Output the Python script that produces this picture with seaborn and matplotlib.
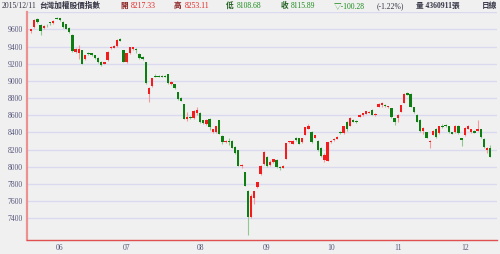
import numpy as np
import pandas as pd
import matplotlib
matplotlib.use("Agg")
import matplotlib.pyplot as plt
import seaborn as sns

# ---- data (daily TAIEX candles) ----
opens = [9580, 9625, 9725, 9650, 9615, 9655, 9685, 9670, 9738, 9730,
         9690, 9660, 9620, 9540, 9340, 9320, 9360, 9250, 9330, 9320,
         9300, 9270, 9225, 9200, 9240, 9380, 9385, 9410, 9490, 9360,
         9220, 9320, 9375, 9375, 9310, 9280, 9220, 8850, 8940, 9060,
         9060, 9060, 9055, 9075, 8960, 8960, 8870, 8805, 8730, 8560,
         8580, 8570, 8630, 8630, 8540, 8500, 8560, 8410, 8400, 8540,
         8360, 8285, 8305, 8305, 8235, 8190, 8005, 7935, 7720, 7415,
         7640, 7760, 7915, 8030, 8110, 8020, 8060, 8080, 8000, 7990,
         8095, 8285, 8270, 8335, 8330, 8285, 8375, 8440, 8410, 8335,
         8305, 8220, 8080, 8070, 8285, 8310, 8325, 8410, 8390, 8525,
         8480, 8550, 8530, 8580, 8600, 8615, 8625, 8665, 8600, 8700,
         8715, 8720, 8690, 8680, 8565, 8565, 8640, 8745, 8855, 8850,
         8695, 8605, 8550, 8420, 8400, 8285, 8375, 8440, 8390, 8480,
         8490, 8470, 8400, 8400, 8480, 8335, 8365, 8440, 8400, 8420,
         8420, 8440, 8325, 8190, 8217.33]
highs = [9610, 9715, 9735, 9665, 9650, 9665, 9690, 9705, 9745, 9735,
         9695, 9665, 9625, 9545, 9385, 9415, 9365, 9305, 9340, 9325,
         9305, 9275, 9230, 9225, 9345, 9405, 9420, 9485, 9495, 9365,
         9330, 9400, 9400, 9385, 9320, 9285, 9225, 8930, 9035, 9075,
         9070, 9070, 9065, 9080, 9000, 8965, 8875, 8810, 8735, 8640,
         8590, 8660, 8690, 8635, 8545, 8555, 8565, 8445, 8475, 8550,
         8365, 8310, 8330, 8310, 8240, 8195, 8030, 7940, 7725, 7680,
         7720, 7825, 8015, 8180, 8120, 8075, 8095, 8090, 8010, 8015,
         8280, 8305, 8310, 8345, 8340, 8340, 8465, 8500, 8415, 8370,
         8310, 8225, 8160, 8290, 8310, 8330, 8355, 8420, 8480, 8530,
         8580, 8560, 8540, 8610, 8625, 8650, 8645, 8670, 8620, 8740,
         8750, 8730, 8710, 8685, 8570, 8610, 8720, 8855, 8865, 8855,
         8700, 8610, 8555, 8460, 8405, 8310, 8425, 8450, 8475, 8500,
         8500, 8475, 8405, 8485, 8485, 8340, 8460, 8485, 8445, 8425,
         8540, 8445, 8330, 8225, 8253.11]
lows = [9555, 9615, 9670, 9530, 9605, 9630, 9650, 9665, 9715, 9700,
        9620, 9600, 9555, 9340, 9320, 9260, 9195, 9240, 9300, 9290,
        9260, 9210, 9175, 9195, 9235, 9375, 9380, 9400, 9465, 9215,
        9210, 9315, 9360, 9330, 9260, 9240, 8960, 8750, 8930, 9040,
        9040, 9040, 9040, 8960, 8950, 8910, 8780, 8760, 8555, 8535,
        8555, 8560, 8600, 8510, 8500, 8490, 8430, 8395, 8390, 8380,
        8270, 8280, 8250, 8215, 8150, 8005, 7990, 7775, 7200, 7400,
        7560, 7750, 7900, 8025, 8000, 8010, 8040, 7990, 7960, 7985,
        8090, 8280, 8260, 8300, 8260, 8280, 8370, 8435, 8280, 8330,
        8180, 8110, 8050, 8065, 8280, 8305, 8320, 8385, 8385, 8420,
        8475, 8520, 8510, 8575, 8595, 8610, 8620, 8600, 8595, 8695,
        8700, 8690, 8680, 8570, 8490, 8525, 8635, 8740, 8835, 8690,
        8630, 8520, 8410, 8385, 8330, 8215, 8370, 8340, 8385, 8455,
        8460, 8395, 8380, 8395, 8385, 8245, 8360, 8435, 8395, 8390,
        8415, 8340, 8220, 8160, 8108.68]
closes = [9600, 9710, 9680, 9585, 9640, 9645, 9675, 9700, 9725, 9710,
          9630, 9610, 9565, 9350, 9375, 9370, 9200, 9300, 9310, 9305,
          9270, 9220, 9185, 9220, 9340, 9400, 9410, 9475, 9470, 9220,
          9320, 9390, 9390, 9360, 9270, 9250, 8970, 8920, 9030, 9045,
          9050, 9045, 9048, 8970, 8990, 8920, 8790, 8765, 8560, 8580,
          8565, 8650, 8660, 8520, 8510, 8550, 8460, 8440, 8470, 8385,
          8285, 8305, 8290, 8220, 8155, 8010, 8025, 7780, 7410, 7660,
          7715, 7820, 8010, 8170, 8010, 8050, 8085, 7995, 7988, 8010,
          8275, 8300, 8300, 8315, 8270, 8335, 8460, 8480, 8285, 8365,
          8190, 8120, 8140, 8285, 8305, 8325, 8350, 8390, 8470, 8440,
          8570, 8525, 8520, 8605, 8620, 8645, 8640, 8605, 8615, 8730,
          8745, 8705, 8705, 8580, 8525, 8605, 8715, 8850, 8840, 8695,
          8635, 8525, 8415, 8450, 8335, 8305, 8420, 8345, 8470, 8465,
          8475, 8400, 8385, 8480, 8390, 8315, 8455, 8480, 8440, 8395,
          8440, 8345, 8225, 8220, 8115.89]

month_labels = ["06", "07", "08", "09", "10", "11", "12"]
month_start_idx = [9, 30, 53, 74, 94, 115, 136]
y_ticks = [7400, 7600, 7800, 8000, 8200, 8400, 8600, 8800, 9000, 9200, 9400, 9600]

df = pd.DataFrame({"open": opens, "high": highs, "low": lows, "close": closes})
df["idx"] = np.arange(len(df))
df["up"] = df["close"] >= df["open"]

# ---- style ----
bg = "#f0f0f0"
sns.set_style("white", {"axes.facecolor": bg, "figure.facecolor": bg})
plt.rcParams["font.family"] = ["Liberation Serif", "Noto Sans CJK TC", "DejaVu Sans"]

fig = plt.figure(figsize=(5.0, 2.54), dpi=100)
ax = fig.add_axes([0.054, 0.055, 0.94, 0.897])
ax.set_facecolor(bg)

red_body, red_wick = "#f21c1c", "#f59a9a"
grn_body, grn_wick = "#0e7d12", "#92c792"

# horizontal grid
for yv in y_ticks + [9800]:
    ax.axhline(yv, color="#d9d9f0", lw=1.0, zorder=0)

wick_cols = np.where(df["up"], red_wick, grn_wick)
body_cols = np.where(df["up"], red_body, grn_body)
ax.vlines(df["idx"], df["low"], df["high"], colors=wick_cols, lw=0.8, zorder=2)
body_bottom = np.minimum(df["open"], df["close"])
body_h = np.maximum(np.abs(df["close"] - df["open"]), 8)
ax.bar(df["idx"], body_h, bottom=body_bottom, width=0.74, color=body_cols,
       linewidth=0, zorder=3)

ax.set_xlim(-1.25, 146.1)
ax.set_ylim(7146, 9800)

ax.set_yticks(y_ticks)
ax.set_yticklabels([str(v) for v in y_ticks], fontsize=5.5, color="#55557a")
ax.set_xticks(month_start_idx)
ax.set_xticklabels(month_labels, fontsize=5.5, color="#55557a")
ax.tick_params(axis="y", length=0, pad=3)
ax.tick_params(axis="x", length=3, direction="in", color="#e06060", pad=3)

sns.despine(ax=ax, top=True, right=True)
ax.spines["left"].set_color("#ee9090")
ax.spines["left"].set_linewidth(1.6)
ax.spines["bottom"].set_color("#e05050")
ax.spines["bottom"].set_linewidth(1.0)
ax.spines["bottom"].set_linestyle((0, (1, 1)))

# ---- header ----
hy = 0.977
fam = ["Liberation Serif", "Noto Sans CJK TC", "DejaVu Sans"]
dark = "#333344"
red_t = "#e02020"
grn_t = "#1a8a1a"
items = [
    (0.004, "2015/12/11", dark, "left"),
    (0.078, "台灣加權股價指數", dark, "left"),
    (0.240, "開", "#8a2020", "left"),
    (0.262, "8217.33", red_t, "left"),
    (0.348, "高", "#8a2020", "left"),
    (0.370, "8253.11", red_t, "left"),
    (0.452, "低", "#206020", "left"),
    (0.474, "8108.68", grn_t, "left"),
    (0.562, "收", "#206020", "left"),
    (0.582, "8115.89", grn_t, "left"),
    (0.668, "▽-100.28", grn_t, "left"),
    (0.754, "(-1.22%)", dark, "left"),
    (0.832, "量 4360911張", dark, "left"),
    (0.994, "日線", dark, "right"),
]
for x, s, c, ha in items:
    fig.text(x, hy, s, fontsize=5.5, color=c, family=fam, va="center",
             ha=ha, fontweight="bold" if any(ord(ch) > 0x2E80 for ch in s) else "normal")

fig.savefig("out.png", dpi=100, facecolor=bg)
